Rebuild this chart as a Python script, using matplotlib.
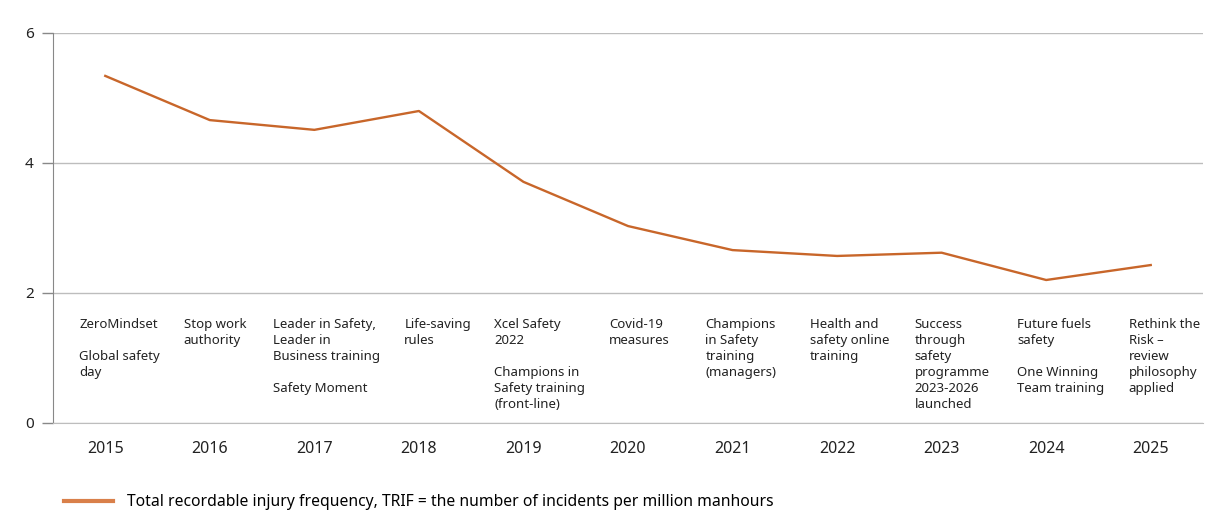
import matplotlib
matplotlib.use("Agg")
import matplotlib.pyplot as plt
from matplotlib.lines import Line2D

years = ["2015", "2016", "2017", "2018", "2019", "2020", "2021", "2022", "2023", "2024", "2025"]
trif = [5.34, 4.66, 4.51, 4.80, 3.71, 3.03, 2.66, 2.57, 2.62, 2.20, 2.43]
milestones = [
    "ZeroMindset\n\nGlobal safety\nday",
    "Stop work\nauthority",
    "Leader in Safety,\nLeader in\nBusiness training\n\nSafety Moment",
    "Life-saving\nrules",
    "Xcel Safety\n2022\n\nChampions in\nSafety training\n(front-line)",
    "Covid-19\nmeasures",
    "Champions\nin Safety\ntraining\n(managers)",
    "Health and\nsafety online\ntraining",
    "Success\nthrough\nsafety\nprogramme\n2023-2026\nlaunched",
    "Future fuels\nsafety\n\nOne Winning\nTeam training",
    "Rethink the\nRisk \u2013\nreview\nphilosophy\napplied",
]
legend_label = "Total recordable injury frequency, TRIF = the number of incidents per million manhours"

# left edge of each milestone text, relative to the year position
text_shift = [-0.25, -0.25, -0.40, -0.14, -0.28, -0.18, -0.26, -0.26, -0.26, -0.28, -0.21]

plt.rcParams["font.family"] = ["Noto Sans", "DejaVu Sans"]
orange = "#C8662A"
grey = "#BDBDBD"

fig = plt.figure(figsize=(12.29, 5.27), dpi=100)
ax = fig.add_axes([53 / 1229, 1 - 423 / 527, 1150 / 1229, 390 / 527])

x = list(range(len(years)))
ax.plot(x, trif, color=orange, linewidth=1.7)

ax.set_xlim(-0.5, len(years) - 0.5)
ax.set_ylim(0, 6)
ax.set_yticks([0, 2, 4, 6])
ax.set_xticks(x)
ax.set_xticklabels(years, fontsize=11.5)
ax.tick_params(axis="x", length=0, pad=13, colors="#222222")
ax.tick_params(axis="y", length=8, color="#888888", width=1, labelsize=11, pad=6, labelcolor="#222222")
ax.grid(axis="y", color=grey, linewidth=1)
ax.set_axisbelow(True)
for side in ["top", "right"]:
    ax.spines[side].set_visible(False)
ax.spines["left"].set_color("#888888")
ax.spines["bottom"].set_color(grey)

for i, txt in enumerate(milestones):
    ax.text(i + text_shift[i], 1.61, txt, ha="left", va="top", fontsize=9.5,
            color="#222222", linespacing=1.3)

handle = Line2D([], [], color="#D9804A", linewidth=3)
fig.legend(handles=[handle], labels=[legend_label], loc="lower left",
           bbox_to_anchor=(50 / 1229, 0.005), frameon=False,
           prop={"size": 11.3}, handlelength=3.1, handletextpad=0.9)

fig.savefig("out.png", dpi=100)
